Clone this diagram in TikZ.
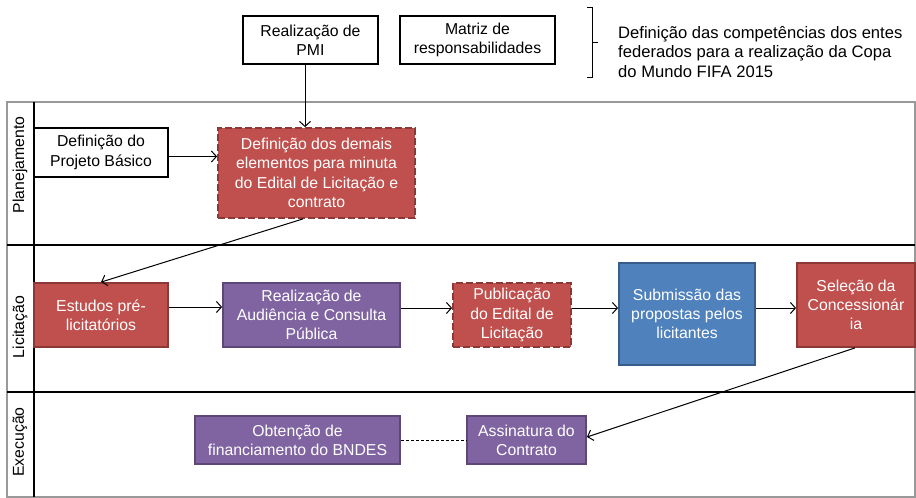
\documentclass[tikz,border=0pt]{standalone}
\usepackage{fontspec}
\setmainfont{Liberation Sans}
\usetikzlibrary{arrows.meta}
\definecolor{redF}{HTML}{C0504D}
\definecolor{redD}{HTML}{8C3836}
\definecolor{purF}{HTML}{8064A2}
\definecolor{purD}{HTML}{5C4776}
\definecolor{bluF}{HTML}{4F81BD}
\definecolor{bluD}{HTML}{385D8A}
\definecolor{frameG}{HTML}{999999}
\begin{document}
\begin{tikzpicture}[x=1pt,y=-1pt,
 txt/.style={font=\fontsize{15.8}{19.3}\selectfont, align=center, inner sep=0pt},
 wbox/.style={txt, draw=black, line width=2.2pt, fill=white, text=black},
 rbox/.style={txt, draw=redD, line width=1.8pt, fill=redF, text=white},
 rdash/.style={rbox, dash pattern=on 7pt off 3pt},
 pbox/.style={txt, draw=purD, line width=1.8pt, fill=purF, text=white},
 bbox/.style={txt, draw=bluD, line width=1.8pt, fill=bluF, text=white},
 arr/.style={line width=1pt, -{Straight Barb[length=5pt,width=11pt]}},
 lane/.style={font=\fontsize{15.8}{19}\selectfont, rotate=90, inner sep=0pt},
 frameline/.style={draw=frameG, line width=1.2pt},
 sepline/.style={draw=black, line width=2.2pt},
]
\useasboundingbox (0,0) rectangle (916,498);
\fill[white] (0,0) rectangle (916,498);

% frame
\draw[frameline] (7,102) rectangle (915,497);
\draw[sepline] (34,102) -- (34,497);
\draw[sepline] (7,245) -- (915,245);
\draw[draw=black, line width=1.2pt] (7,392) -- (915,392);

% lane labels
\node[lane] (l1) at (20,165) {Planejamento};
\node[lane] (l2) at (20,327) {Licitação};
\node[lane] (l3) at (20,442) {Execução};

% top boxes
\node[wbox, minimum width=135pt, minimum height=48pt] (pmi) at (310.5,40) {Realização de\\PMI};
\node[wbox, minimum width=155pt, minimum height=48pt] (mat) at (477.5,40) {Matriz de\\responsabilidades};

% brace
\draw[line width=1pt] (587,7) -- (592,7) -- (592,77) -- (587,77);
\draw[line width=1pt] (592,42) -- (598,42);
\node[anchor=west, align=left, inner sep=0pt, font=\fontsize{16.6}{19.5}\selectfont] (desc) at (618,52)
 {Definição das competências dos entes\\federados para a realização da Copa\\do Mundo FIFA 2015};

% Planejamento
\node[wbox, line width=2.6pt, minimum width=134pt, minimum height=49pt] (pb) at (101,152.5) {Definição do\\Projeto Básico};
\node[rdash, minimum width=197pt, minimum height=90pt] (def) at (316.5,173) {Definição dos demais\\elementos para minuta\\do Edital de Licitação e\\contrato};

% Licitação
\node[rbox, minimum width=134pt, minimum height=64pt] (est) at (101,315) {Estudos pré-\\licitatórios};
\node[pbox, minimum width=177pt, minimum height=64pt] (aud) at (311.5,315) {Realização de\\Audiência e Consulta\\Pública};
\node[rdash, minimum width=118pt, minimum height=64pt] (pub) at (512,315) {Publicação\\do Edital de\\Licitação};
\node[bbox, minimum width=136pt, minimum height=102pt] (sub) at (687,314) {Submissão das\\propostas pelos\\licitantes};
\node[rbox, minimum width=118pt, minimum height=84pt] (sel) at (856,305) {Seleção da\\Concessionár\\ia};

% Execução
\node[pbox, minimum width=205pt, minimum height=48pt] (obt) at (297.5,440) {Obtenção de\\financiamento do BNDES};
\node[pbox, minimum width=119pt, minimum height=48pt] (ass) at (526.5,440) {Assinatura do\\Contrato};

% connectors
\draw[arr] ([xshift=-5.5pt]pmi.south) -- ([xshift=-5.5pt]pmi.south |- def.north);
\draw[arr] ([yshift=-4pt]pb.east) -- ([yshift=-4pt]pb.east -| def.west);
\draw[arr] ([xshift=-13.5pt]def.south) -- (est.north);
\draw[arr] ([yshift=8pt]est.east) -- ([yshift=8pt]est.east -| aud.west);
\draw[arr] ([yshift=7pt]aud.east) -- ([yshift=7pt]aud.east -| pub.west);
\draw[arr] ([yshift=7pt]pub.east) -- ([yshift=7pt]pub.east -| sub.west);
\draw[arr] ([yshift=6pt]sub.east) -- ([yshift=6pt]sub.east -| sel.west);
\draw[arr] ([xshift=-1pt]sel.south) -- ([yshift=3pt]ass.east);
\draw[line width=1pt, dash pattern=on 3pt off 2pt] (obt.east) -- (ass.west);
\end{tikzpicture}
\end{document}
